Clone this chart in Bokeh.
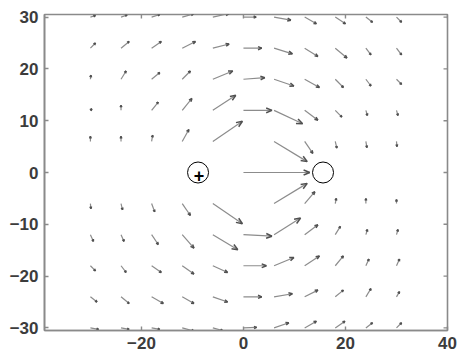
import math
from bokeh.plotting import figure
from bokeh.models import ColumnDataSource, LinearAxis, FixedTicker, Range1d
from bokeh.core.properties import value
from bokeh.embed import file_html
from bokeh.resources import INLINE

# grid of the vector field
grid_x = [-30, -24, -18, -12, -6, 0, 6, 12, 18, 24, 30]
grid_y = [30, 24, 18, 12, 6, 0, -6, -12, -18, -24, -30]

# arrow components (None = no arrow drawn)
u_rows = [
    [1.0, 1.2, 1.6, 2.2, 3.2, 2.5, 3.3, 2.3, 2.0, 1.3, 1.0],
    [1.0, 1.6, 1.9, 2.6, 3.2, 3.6, 3.6, 2.6, 2.3, 1.0, 1.0],
    [0.1, 1.0, 1.6, 1.6, 3.9, 4.2, 3.9, 2.9, 1.6, 1.0, 1.0],
    [0.3, 0.0, 1.3, 1.9, 4.5, 5.6, 5.6, 2.6, 1.3, 0.3, 0.3],
    [0.0, 0.0, 0.2, 1.3, 5.8, None, 6.5, 1.6, 0.3, 0.2, 0.1],
    [None, None, None, None, None, 13.0, None, None, None, None, None],
    [0.1, 0.3, 0.6, 1.6, 5.8, None, 6.5, 2.0, 0.2, 0.0, 0.0],
    [0.6, 0.6, 1.3, 2.3, 4.9, 5.6, 5.2, 2.6, 1.0, 0.3, 0.3],
    [1.0, 1.0, 1.9, 2.3, 2.9, 4.5, 3.9, 2.9, 1.6, 0.6, 0.6],
    [1.3, 1.6, 2.3, 2.3, 2.9, 3.6, 3.6, 2.6, 1.6, 1.0, 0.6],
    [1.6, 1.6, 1.6, 2.3, 1.9, 2.6, 2.9, 2.3, 1.9, 1.3, 1.0],
]
v_rows = [
    [0.3, 0.4, 0.5, 0.6, 0.7, 0.0, -0.6, -1.3, -1.3, -1.0, -1.0],
    [1.0, 1.3, 1.3, 1.3, 0.8, 0.0, -1.1, -1.6, -1.9, -1.3, -1.3],
    [0.8, 1.6, 1.3, 1.6, 1.6, 0.3, -1.3, -1.6, -1.6, -1.3, -1.0],
    [0.3, 1.0, 1.6, 2.3, 2.9, 0.0, -2.6, -1.9, -1.3, -1.0, -1.0],
    [1.0, 1.0, 1.2, 2.3, 3.9, None, -3.9, -2.3, -1.3, -1.2, -1.0],
    [None, None, None, None, None, 0.0, None, None, None, None, None],
    [-1.0, -1.2, -1.6, -2.3, -3.9, None, 3.9, 2.3, 1.0, 1.0, 0.8],
    [-1.3, -1.3, -1.9, -2.6, -2.9, -0.3, 3.2, 1.9, 1.6, 1.0, 1.0],
    [-1.0, -1.3, -1.3, -1.6, -1.3, 0.0, 1.6, 1.9, 1.9, 1.3, 1.3],
    [-1.0, -1.3, -1.3, -1.3, -1.0, 0.0, 0.6, 1.3, 1.3, 1.6, 1.0],
    [-0.3, -0.3, -0.3, -0.6, -0.5, 0.1, 1.0, 1.3, 1.3, 1.0, 1.0],
]

# charges
charge_x = [-8.9, 15.6]
charge_y = [0, 0]
charge_label = ["+", ""]

x_ticks = [-20, 0, 20, 40]
y_ticks = [-30, -20, -10, 0, 10, 20, 30]

X_MIN, X_MAX = -39, 40
Y_MIN, Y_MAX = -30.5, 30.5

# build shafts and heads
x0, y0, x1, y1 = [], [], [], []
hx0, hy0, hx1, hy1 = [], [], [], []
for j, yy in enumerate(grid_y):
    for i, xx in enumerate(grid_x):
        u = u_rows[j][i]
        v = v_rows[j][i]
        if u is None or v is None:
            continue
        ex, ey = xx + u, yy + v
        x0.append(xx); y0.append(yy); x1.append(ex); y1.append(ey)
        L = math.hypot(u, v)
        if L == 0:
            continue
        ang = math.atan2(v, u)
        h = min(max(0.22 * L, 0.45), 1.3)
        for s in (1, -1):
            a = ang + math.pi + s * 0.38
            hx0.append(ex); hy0.append(ey)
            hx1.append(ex + h * math.cos(a)); hy1.append(ey + h * math.sin(a))

p = figure(width=459, height=356, output_backend="svg", toolbar_location=None,
           x_range=Range1d(X_MIN, X_MAX), y_range=Range1d(Y_MIN, Y_MAX),
           min_border_left=44, min_border_right=12, min_border_top=14, min_border_bottom=26,
           x_axis_location=None, y_axis_location=None)
p.xgrid.visible = False
p.ygrid.visible = False
p.outline_line_color = "#8a8a8a"
p.outline_line_width = 1.6
p.background_fill_color = "white"
p.border_fill_color = "white"

def style_axis(ax, ticks):
    ax.ticker = FixedTicker(ticks=ticks)
    ax.axis_line_color = "#8a8a8a"
    ax.axis_line_width = 1.6
    ax.major_tick_line_color = "#8a8a8a"
    ax.major_tick_line_width = 1.4
    ax.major_tick_in = 4
    ax.major_tick_out = 0
    ax.minor_tick_line_color = None
    ax.major_label_text_font = "Liberation Sans"
    ax.major_label_text_font_style = "bold"
    ax.major_label_text_font_size = "17px"
    ax.major_label_text_color = "#3c3c3c"
    ax.major_label_standoff = 6

bx = LinearAxis(); style_axis(bx, x_ticks); p.add_layout(bx, "below")
ly = LinearAxis(); style_axis(ly, y_ticks); p.add_layout(ly, "left")

# inward ticks on the top and right box edges
tick_dx = 0.78
tick_dy = 0.78
p.segment(x0=x_ticks, y0=[Y_MAX] * len(x_ticks), x1=x_ticks, y1=[Y_MAX - tick_dy] * len(x_ticks),
          line_color="#8a8a8a", line_width=1.4)
p.segment(x0=[X_MAX] * len(y_ticks), y0=y_ticks, x1=[X_MAX - tick_dx] * len(y_ticks), y1=y_ticks,
          line_color="#8a8a8a", line_width=1.4)

p.segment(x0=x0, y0=y0, x1=x1, y1=y1, line_color="#8c8c8c", line_width=1.2)
p.segment(x0=hx0, y0=hy0, x1=hx1, y1=hy1, line_color="#505050", line_width=1.5)

src = ColumnDataSource(dict(x=charge_x, y=charge_y, t=charge_label))
p.scatter(x="x", y="y", source=src, size=21, fill_color="white", line_color="black", line_width=1)
p.text(x="x", y="y", text="t", source=src, text_align="center", text_baseline="middle",
       text_font=value("Liberation Sans"), text_font_style="bold", text_font_size="18px",
       text_color="black", x_offset=1, y_offset=3)

open("out.html", "w").write(file_html(p, INLINE))
